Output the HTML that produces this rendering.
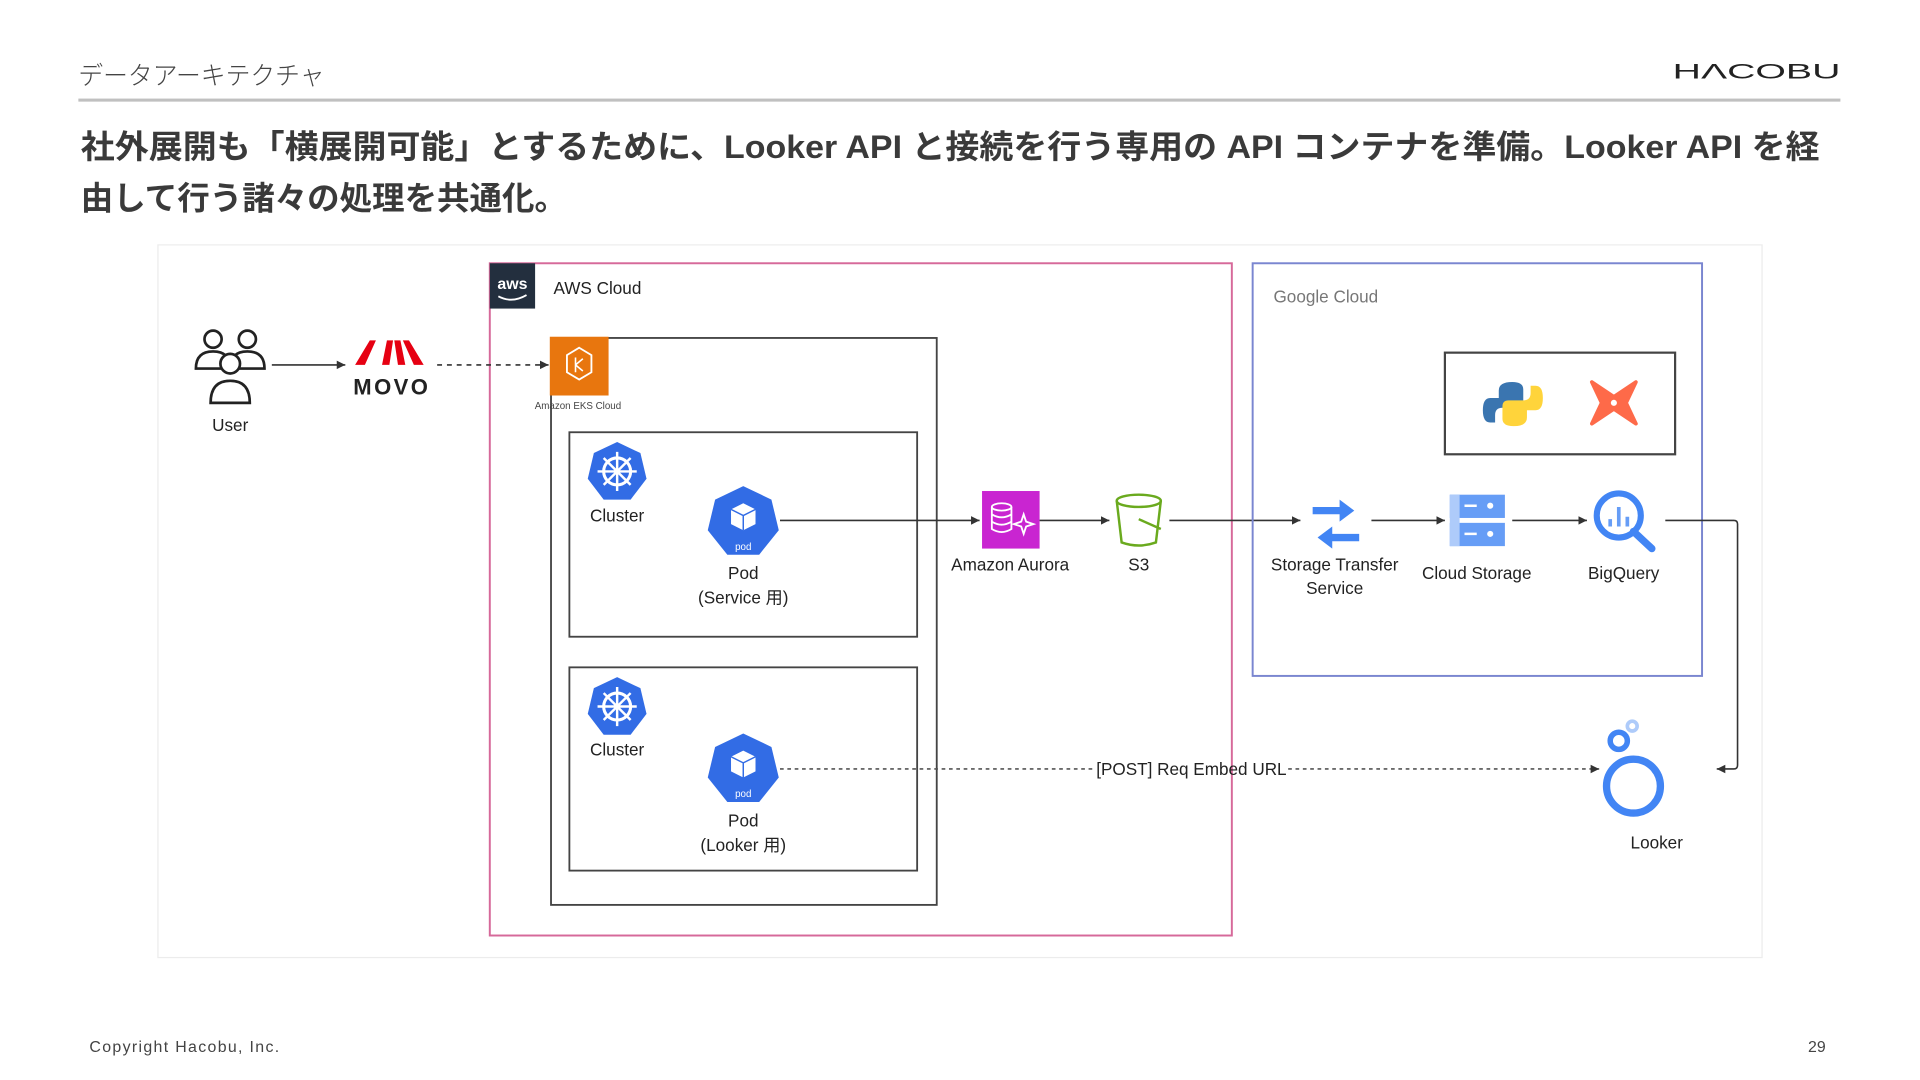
<!DOCTYPE html>
<html><head><meta charset="utf-8"><style>
html,body{margin:0;padding:0;background:#fff;}
svg{display:block;}
text{font-family:"Liberation Sans","Noto Sans CJK JP",sans-serif;}
</style></head><body>
<svg width="1920" height="1080" viewBox="0 0 1568 882" xmlns="http://www.w3.org/2000/svg">
<defs>
<marker id="ar" markerWidth="8" markerHeight="8" refX="7" refY="4" orient="auto" markerUnits="userSpaceOnUse"><path d="M0,0.5 L7,4 L0,7.5 Z" fill="#333"/></marker>
</defs>
<!-- header -->
<text x="64" y="69" font-size="21" fill="#444" font-weight="300" textLength="201" lengthAdjust="spacingAndGlyphs">データアーキテクチャ</text>
<text x="1366" y="64" font-size="17" fill="#222" textLength="137" lengthAdjust="spacingAndGlyphs">H&#923;COBU</text>
<rect x="64" y="80.5" width="1439" height="2.5" fill="#c0c0c0"/>
<text x="66" y="129" font-size="26.5" font-weight="bold" fill="#3a3a3a" textLength="1420" lengthAdjust="spacingAndGlyphs">社外展開も「横展開可能」とするために、Looker API と接続を行う専用の API コンテナを準備。Looker API を経</text>
<text x="66" y="171" font-size="26.5" font-weight="bold" fill="#3a3a3a" textLength="397" lengthAdjust="spacingAndGlyphs">由して行う諸々の処理を共通化。</text>

<!-- diagram frame -->
<rect x="129" y="200" width="1310" height="582" fill="#fff" stroke="#ececec" stroke-width="1"/>

<!-- AWS box -->
<rect x="400" y="215" width="606" height="549" fill="none" stroke="#d6699a" stroke-width="1.6"/>
<rect x="400" y="215" width="37" height="37" fill="#232f3e"/>
<text x="418.5" y="236" font-size="13" fill="#fff" text-anchor="middle" font-weight="bold">aws</text>
<path d="M407,242 Q418,248 430,241" stroke="#fff" stroke-width="1.5" fill="none"/>
<text x="452" y="240" font-size="14" fill="#222">AWS Cloud</text>

<!-- EKS box -->
<rect x="450" y="276" width="315" height="463" fill="none" stroke="#444" stroke-width="1.5"/>
<rect x="449" y="275" width="48" height="48" fill="#e8760e"/>
<path d="M473,284 l10,6 v14 l-10,6 l-10,-6 v-14 z" fill="none" stroke="#fff" stroke-width="1.5"/>
<path d="M470,292 v12 M470,298 l6,-5 M470,298 l6,5" stroke="#fff" stroke-width="1.3" fill="none"/>
<text x="472" y="334" font-size="8" fill="#444" text-anchor="middle">Amazon EKS Cloud</text>

<!-- cluster boxes -->
<rect x="465" y="353" width="284" height="167" fill="none" stroke="#444" stroke-width="1.5"/>
<rect x="465" y="545" width="284" height="166" fill="none" stroke="#444" stroke-width="1.5"/>

<g>
<polygon points="504,361 523,370 528,391 515,408 493,408 480,391 485,370" fill="#326ce5"/>
<circle cx="504" cy="385" r="11" fill="none" stroke="#fff" stroke-width="2.5"/>
<path d="M504,369 v32 M488,385 h32 M493,374 l22,22 M515,374 l-22,22" stroke="#fff" stroke-width="2"/>
</g>
<text x="504" y="426" font-size="14" fill="#222" text-anchor="middle">Cluster</text>
<g transform="translate(0,192)">
<polygon points="504,361 523,370 528,391 515,408 493,408 480,391 485,370" fill="#326ce5"/>
<circle cx="504" cy="385" r="11" fill="none" stroke="#fff" stroke-width="2.5"/>
<path d="M504,369 v32 M488,385 h32 M493,374 l22,22 M515,374 l-22,22" stroke="#fff" stroke-width="2"/>
</g>
<text x="504" y="617" font-size="14" fill="#222" text-anchor="middle">Cluster</text>

<!-- pods -->
<g>
<polygon points="607,397 630,408 636,433 620,453 594,453 578,433 584,408" fill="#326ce5"/>
<path d="M597,416 l10,-5 l10,5 v12 l-10,5 l-10,-5 z" fill="#fff"/>
<path d="M597,416 l10,5 l10,-5 M607,421 v12" stroke="#326ce5" stroke-width="1.2" fill="none"/>
<text x="607" y="449" font-size="8" fill="#fff" text-anchor="middle">pod</text>
</g>
<text x="607" y="473" font-size="14" fill="#222" text-anchor="middle">Pod</text>
<text x="607" y="493" font-size="14" fill="#222" text-anchor="middle">(Service 用)</text>
<g transform="translate(0,202)">
<polygon points="607,397 630,408 636,433 620,453 594,453 578,433 584,408" fill="#326ce5"/>
<path d="M597,416 l10,-5 l10,5 v12 l-10,5 l-10,-5 z" fill="#fff"/>
<path d="M597,416 l10,5 l10,-5 M607,421 v12" stroke="#326ce5" stroke-width="1.2" fill="none"/>
<text x="607" y="449" font-size="8" fill="#fff" text-anchor="middle">pod</text>
</g>
<text x="607" y="675" font-size="14" fill="#222" text-anchor="middle">Pod</text>
<text x="607" y="695" font-size="14" fill="#222" text-anchor="middle">(Looker 用)</text>

<!-- user -->
<g stroke="#222" stroke-width="2.2" fill="none">
<circle cx="174" cy="277" r="7"/><path d="M160,301 q0,-14 14,-14 q14,0 14,14 z"/>
<circle cx="202" cy="277" r="7"/><path d="M188,301 q0,-14 14,-14 q14,0 14,14 z"/>
<circle cx="188" cy="297" r="8" fill="#fff"/><path d="M172,329 q0,-18 16,-18 q16,0 16,18 z" fill="#fff"/>
</g>
<text x="188" y="352" font-size="14" fill="#222" text-anchor="middle">User</text>
<line x1="222" y1="298" x2="282" y2="298" stroke="#333" stroke-width="1.3" marker-end="url(#ar)"/>
<!-- MOVO -->
<path d="M290,298 l12,-20 h5 l-9,20 z M312,298 l4,-20 h5 l-3,20 z M325,298 l-3,-20 h5 l4,20 z M338,298 l-9,-20 h5 l12,20 z" fill="#e60012"/>
<text x="320" y="322" font-size="18" font-weight="bold" fill="#222" text-anchor="middle" letter-spacing="2">MOVO</text>
<line x1="357" y1="298" x2="448" y2="298" stroke="#333" stroke-width="1.3" stroke-dasharray="4,4" marker-end="url(#ar)"/>

<!-- flow line -->
<line x1="637" y1="425" x2="800" y2="425" stroke="#333" stroke-width="1.3" marker-end="url(#ar)"/>
<rect x="802" y="401" width="47" height="47" fill="#c925d1"/>
<g stroke="#fff" stroke-width="1.5" fill="none">
<ellipse cx="818" cy="414" rx="8" ry="3"/><path d="M810,414 v18 q8,5 16,0 v-18 M810,420 q8,5 16,0 M810,426 q8,5 16,0"/>
<path d="M836,420 l2,6 l6,2 l-6,2 l-2,6 l-2,-6 l-6,-2 l6,-2 z"/>
</g>
<text x="825" y="466" font-size="14" fill="#222" text-anchor="middle">Amazon Aurora</text>
<line x1="849" y1="425" x2="906" y2="425" stroke="#333" stroke-width="1.3" marker-end="url(#ar)"/>
<g stroke="#6aaa1e" stroke-width="2" fill="none">
<ellipse cx="930" cy="409" rx="18" ry="5"/>
<path d="M912,409 l4,34 q14,5 28,0 l4,-34"/>
<path d="M930,424 l18,8"/>
</g>
<text x="930" y="466" font-size="14" fill="#222" text-anchor="middle">S3</text>
<line x1="955" y1="425" x2="1062" y2="425" stroke="#333" stroke-width="1.3" marker-end="url(#ar)"/>

<!-- Google cloud -->
<rect x="1023" y="215" width="367" height="337" fill="none" stroke="#7a86d0" stroke-width="1.6"/>
<text x="1040" y="247" font-size="14" fill="#777">Google Cloud</text>
<rect x="1180" y="288" width="188" height="83" fill="none" stroke="#444" stroke-width="1.8"/>
<path d="M1235,312 q-11,0 -11,7 v6 h-7 q-6,0 -6,10 q0,10 6,10 h4 v-6 q0,-6 6,-6 h12 q5,0 5,-5 v-10 q0,-6 -9,-6 z" fill="#3a75b0"/>
<path d="M1236,348 q11,0 11,-7 v-6 h7 q6,0 6,-10 q0,-10 -6,-10 h-4 v6 q0,6 -6,6 h-12 q-5,0 -5,5 v10 q0,6 9,6 z" fill="#ffd43b"/>
<path d="M1300,312 l18,12 l18,-12 l-8,17 l8,17 l-18,-12 l-18,12 l8,-17 z" fill="#fe6a49" stroke="#fe6a49" stroke-width="3" stroke-linejoin="round"/>
<circle cx="1318" cy="329" r="2.5" fill="#fff"/>

<!-- storage transfer -->
<path d="M1072,414 h22 v-6 l12,9 l-12,9 v-6 h-22 z" fill="#4285f4"/>
<path d="M1110,436 h-22 v-6 l-12,9 l12,9 v-6 h22 z" fill="#4285f4"/>
<text x="1090" y="466" font-size="14" fill="#222" text-anchor="middle">Storage Transfer</text>
<text x="1090" y="485" font-size="14" fill="#222" text-anchor="middle">Service</text>
<line x1="1120" y1="425" x2="1180" y2="425" stroke="#333" stroke-width="1.3" marker-end="url(#ar)"/>
<rect x="1184" y="404" width="45" height="19" fill="#669df6"/>
<rect x="1184" y="427" width="45" height="19" fill="#669df6"/>
<rect x="1184" y="404" width="8" height="42" fill="#aecbfa"/>
<path d="M1196,413 h10 M1196,436 h10" stroke="#fff" stroke-width="2"/>
<circle cx="1217" cy="413" r="2.5" fill="#fff"/><circle cx="1217" cy="436" r="2.5" fill="#fff"/>
<text x="1206" y="473" font-size="14" fill="#222" text-anchor="middle">Cloud Storage</text>
<line x1="1235" y1="425" x2="1296" y2="425" stroke="#333" stroke-width="1.3" marker-end="url(#ar)"/>
<circle cx="1322" cy="421" r="18" fill="none" stroke="#4285f4" stroke-width="5"/>
<path d="M1334,434 l15,14" stroke="#4285f4" stroke-width="6" stroke-linecap="round"/>
<path d="M1315,424 v6 M1322,414 v16 M1329,422 v8" stroke="#669df6" stroke-width="3"/>
<text x="1326" y="473" font-size="14" fill="#222" text-anchor="middle">BigQuery</text>
<path d="M1360,425 H1416 q3,0 3,3 V625 q0,3 -3,3 H1402" fill="none" stroke="#333" stroke-width="1.3" marker-end="url(#ar)"/>

<!-- Looker -->
<circle cx="1334" cy="642" r="22" fill="none" stroke="#4285f4" stroke-width="6"/>
<circle cx="1322" cy="605" r="7" fill="none" stroke="#4285f4" stroke-width="4.5"/>
<circle cx="1333" cy="593" r="4" fill="none" stroke="#aecbfa" stroke-width="3"/>
<text x="1353" y="693" font-size="14" fill="#222" text-anchor="middle">Looker</text>

<!-- dotted -->
<line x1="637" y1="628" x2="893" y2="628" stroke="#555" stroke-width="1.3" stroke-dasharray="3,3"/>
<line x1="1052" y1="628" x2="1306" y2="628" stroke="#555" stroke-width="1.3" stroke-dasharray="3,3" marker-end="url(#ar)"/>
<text x="973" y="633" font-size="14" fill="#222" text-anchor="middle">[POST] Req Embed URL</text>

<!-- footer -->
<text x="73" y="859" font-size="13" fill="#444" textLength="155" lengthAdjust="spacing">Copyright Hacobu, Inc.</text>
<text x="1491" y="859" font-size="13" fill="#444" text-anchor="end">29</text>
</svg>
</body></html>
